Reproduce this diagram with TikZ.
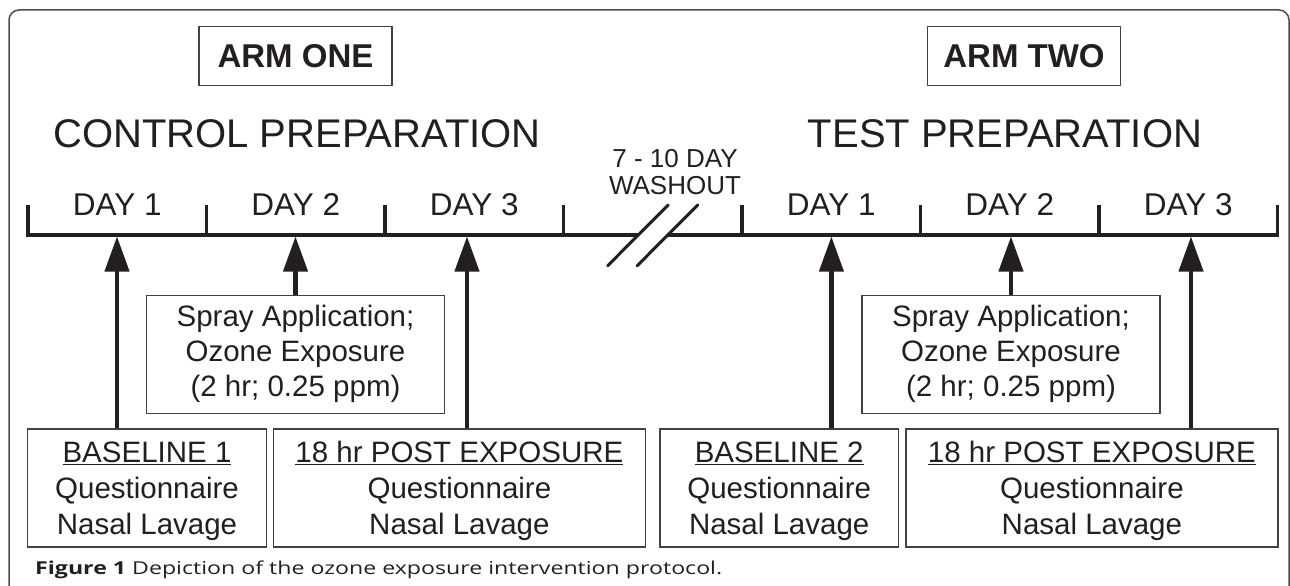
\documentclass[tikz,border=0pt]{standalone}
\usepackage{fontspec}
\setmainfont{Liberation Sans}
\newfontfamily\capfont[FakeStretch=1.3]{Open Sans}
\usetikzlibrary{arrows.meta, positioning}

\definecolor{ink}{HTML}{231F20}

\tikzset{
  box/.style={draw=ink!85, line width=1.2pt, inner sep=0pt, align=center, text=ink},
  armbox/.style={box, minimum width=193pt, minimum height=59pt, font=\fontsize{33}{40}\selectfont\bfseries},
  spraybox/.style={box, minimum width=298pt, minimum height=118pt, font=\fontsize{29.5}{35}\selectfont},
  visitbox/.style={box, minimum height=118pt, font=\fontsize{29.5}{36}\selectfont},
  daylabel/.style={anchor=base, inner sep=0pt, text=ink, font=\fontsize{31.5}{38}\selectfont},
  axis/.style={line width=3.6pt, draw=ink},
  arr/.style={line width=4.2pt, draw=ink, -{Triangle[length=35pt,width=24pt]}},
  slash/.style={line width=3pt, line cap=round, draw=ink},
}

\begin{document}
\begin{tikzpicture}[x=1pt, y=-1pt]
                \useasboundingbox (0,0) rectangle (1290,586);
                \clip (0,0) rectangle (1290,586);
                % Frame
                \draw[draw=black!70, line width=1.5pt, rounded corners=10pt] (9,10) rectangle (1289,640);
                % Arm titles
                \node[armbox] (arm1) at (295.5,56.3) {ARM ONE};
                \node[armbox] (arm2) at (1024,56.3) {ARM TWO};
                \node[anchor=base, inner sep=0pt, text=ink, font=\fontsize{40}{48}\selectfont] (prep1) at (297,147) {CONTROL PREPARATION};
                \node[anchor=base, inner sep=0pt, text=ink, font=\fontsize{40}{48}\selectfont] (prep2) at (1005,147) {TEST PREPARATION};
                % Washout
                \node[inner sep=0pt, align=center, text=ink, font=\fontsize{26}{27}\selectfont] (washout) at (675,172.2) {7 - 10 DAY\\WASHOUT};
                % Timeline ticks
                \foreach \i in {0,...,7}
                    \coordinate (t\i) at ({28+178.5*\i},235);
                \coordinate (w1) at (638.2,235);
                \coordinate (w2) at (667.7,235);
                \draw[axis] (t0) ++(0,-30) -- (t0) -- (w1);
                \draw[axis] (w2) -- (t7) -- ++(0,-30);
                \foreach \i in {1,...,6}
                    \draw[axis] (t\i) -- ++(0,-30);
                % Break marks
                \draw[slash] (w1) +(-30.5,30.7) -- +(30,-30);
                \draw[slash] (w2) +(-30.5,30.7) -- +(30,-30);
                % Day labels
                \foreach \i/\lbl in {0/DAY 1, 1/DAY 2, 2/DAY 3, 4/DAY 1, 5/DAY 2, 6/DAY 3}
                    \node[daylabel] (day\i) at ({117.25+178.5*\i},215) {\lbl};
                % Exposure boxes
                \node[spraybox] (spray1) at (295.5,354.2) {Spray Application;\\Ozone Exposure\\(2 hr; 0.25 ppm)};
                \node[spraybox] (spray2) at (1011,354.2) {Spray Application;\\Ozone Exposure\\(2 hr; 0.25 ppm)};
                % Visit boxes
                \node[visitbox, minimum width=238.5pt] (base1) at (147,488) {\rule{0pt}{28pt}\underline{BASELINE 1}\\Questionnaire\\Nasal Lavage};
                \node[visitbox, minimum width=372pt] (post1) at (459.4,488) {\rule{0pt}{28pt}\underline{18 hr POST EXPOSURE}\\Questionnaire\\Nasal Lavage};
                \node[visitbox, minimum width=238.5pt] (base2) at (779.2,488) {\rule{0pt}{28pt}\underline{BASELINE 2}\\Questionnaire\\Nasal Lavage};
                \node[visitbox, minimum width=372pt] (post2) at (1091.9,488) {\rule{0pt}{28pt}\underline{18 hr POST EXPOSURE}\\Questionnaire\\Nasal Lavage};
                % Arrows to the timeline
                \coordinate (a1) at (117,236.5);
                \coordinate (a2) at (295.5,236.5);
                \coordinate (a3) at (467,236.5);
                \coordinate (a4) at (831.4,236.5);
                \coordinate (a5) at (1011,236.5);
                \coordinate (a6) at (1191,236.5);
                \draw[arr] (a1 |- base1.north) -- (a1);
                \draw[arr] (spray1.north) -- (a2);
                \draw[arr] (a3 |- post1.north) -- (a3);
                \draw[arr] (a4 |- base2.north) -- (a4);
                \draw[arr] (spray2.north) -- (a5);
                \draw[arr] (a6 |- post2.north) -- (a6);
                % Caption
                \node[anchor=base west, inner sep=0pt, text=ink, font=\capfont\fontsize{17.8}{20}\selectfont] (caption) at (35,574.3) {\textbf{Figure 1} Depiction of the ozone exposure intervention protocol.};
            \end{tikzpicture}
\end{document}
